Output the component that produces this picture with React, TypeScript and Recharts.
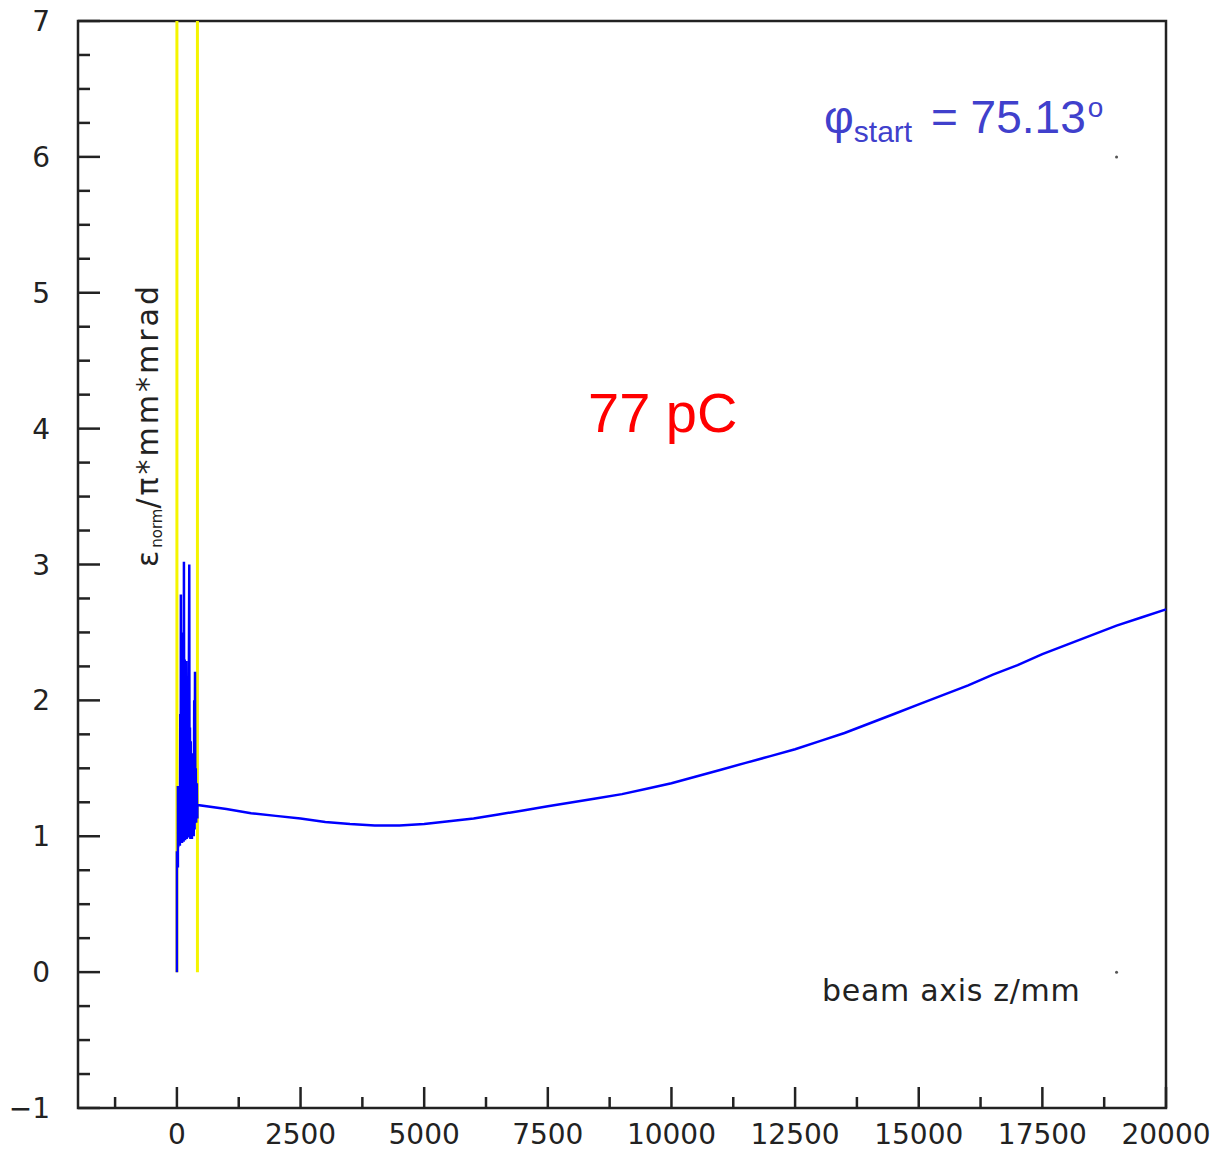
import { LineChart, Line, XAxis, YAxis, ReferenceLine, ReferenceArea, ReferenceDot } from "recharts";

// emittance near the cathode (z in mm), dense solver oscillations inside the gun
const zNear = [
  0, 0, 12, 12, 20, 20, 28, 36, 44, 52, 60, 68, 76, 80, 88, 96, 104, 112, 120, 128,
  136, 142, 150, 158, 166, 174, 182, 190, 198, 206, 214, 222, 230, 240, 250, 256, 264, 272, 280, 288,
  296, 304, 312, 320, 330, 340, 350, 358, 366, 374, 382, 390, 398, 404, 408, 414, 414,
];
const emitNear = [
  0, 0.88, 0.88, 0.78, 0.78, 1.37, 0.92, 1.36, 0.95, 1.35, 0.93, 1.9, 0.96, 2.78, 0.97, 2.4, 0.95, 2.2, 0.98, 2.5,
  0.96, 3.02, 0.99, 2.3, 0.97, 2.25, 1.0, 2.29, 0.98, 2.1, 1.0, 1.9, 0.99, 2.0, 3.0, 1.0, 1.8, 0.98, 1.7, 1.0,
  1.61, 0.98, 1.5, 1.0, 1.45, 1.0, 2.0, 1.05, 2.21, 1.1, 1.5, 1.1, 1.38, 1.38, 1.14, 1.14, 1.23,
];

// emittance along the drift after the gun
const zBeam = [
  1000, 1500, 2000, 2500, 3000, 3500, 4000, 4500, 5000, 5500, 6000, 6500, 7000, 7500, 8000, 8500, 9000, 9500,
  10000, 10500, 11000, 11500, 12000, 12500, 13000, 13500, 14000, 14500, 15000, 15500, 16000, 16500, 17000,
  17500, 18000, 18500, 19000, 19500, 20000,
];
const emitBeam = [
  1.2, 1.17, 1.15, 1.13, 1.105, 1.09, 1.08, 1.08, 1.09, 1.11, 1.13, 1.16, 1.19, 1.22, 1.25, 1.28, 1.31, 1.35,
  1.39, 1.44, 1.49, 1.54, 1.59, 1.64, 1.7, 1.76, 1.83, 1.9, 1.97, 2.04, 2.11, 2.19, 2.26,
  2.34, 2.41, 2.48, 2.55, 2.61, 2.67,
];

// gun boundaries
const markerZ = [0, 415];

const xTicks = [
  -1250, 0, 1250, 2500, 3750, 5000, 6250, 7500, 8750, 10000, 11250, 12500, 13750, 15000, 16250, 17500, 18750, 20000,
];
const yTicks = [
  -1, -0.75, -0.5, -0.25, 0, 0.25, 0.5, 0.75, 1, 1.25, 1.5, 1.75, 2, 2.25, 2.5, 2.75, 3, 3.25, 3.5, 3.75,
  4, 4.25, 4.5, 4.75, 5, 5.25, 5.5, 5.75, 6, 6.25, 6.5, 6.75, 7,
];

const data = [
  ...zNear.map((z, i) => ({ z, emit: emitNear[i] })),
  ...zBeam.map((z, i) => ({ z, emit: emitBeam[i] })),
];

const AXIS = "#222";
const TICK_FONT = "'DejaVu Sans', sans-serif";
const SANS = "'Liberation Sans', Arial, sans-serif";

function XTick(props: any) {
  const { x, y, payload } = props;
  const major = payload.value % 2500 === 0;
  return (
    <g>
      <line x1={x} x2={x} y1={y} y2={y - (major ? 21 : 11)} stroke={AXIS} strokeWidth={2.5} />
      {major && (
        <text x={x} y={y + 36} textAnchor="middle" fontSize={28} fontFamily={TICK_FONT} fill="#222">
          {payload.value}
        </text>
      )}
    </g>
  );
}

function YTick(props: any) {
  const { x, y, payload } = props;
  const major = Number.isInteger(payload.value);
  const v = payload.value;
  return (
    <g>
      <line x1={x} x2={x + (major ? 22 : 12)} y1={y} y2={y} stroke={AXIS} strokeWidth={2.5} />
      {major && (
        <text x={x - 28} y={y + 10} textAnchor="end" fontSize={28} fontFamily={TICK_FONT} fill="#222">
          {v < 0 ? `\u2212${-v}` : v}
        </text>
      )}
    </g>
  );
}

export default function App() {
  return (
    <div style={{ position: "absolute", left: 0, top: 0, background: "#fff" }}>
      <LineChart width={1223} height={1153} data={data} margin={{ top: 21, right: 57, bottom: 0, left: 0 }}>
        <XAxis
          type="number"
          dataKey="z"
          domain={[-2000, 20000]}
          ticks={xTicks}
          interval={0}
          height={45}
          axisLine={false}
          tickLine={false}
          tickSize={0}
          tickMargin={0}
          tick={XTick}
        />
        <YAxis
          type="number"
          domain={[-1, 7]}
          ticks={yTicks}
          interval={0}
          width={78}
          axisLine={false}
          tickLine={false}
          tickSize={0}
          tickMargin={0}
          tick={YTick}
        />
        <ReferenceArea x1={-2000} x2={20000} y1={-1} y2={7} fill="none" stroke={AXIS} strokeWidth={2.5} />
        {markerZ.map((z) => (
          <ReferenceLine
            key={z}
            segment={[{ x: z, y: 0 }, { x: z, y: 7 }]}
            stroke="#f5f500"
            strokeWidth={3}
          />
        ))}
        <ReferenceDot x={19000} y={6} r={1.5} fill="#555" stroke="none" />
        <ReferenceDot x={19000} y={0} r={1.5} fill="#555" stroke="none" />
        <Line
          type="linear"
          dataKey="emit"
          stroke="#0000ff"
          strokeWidth={2.5}
          dot={false}
          isAnimationActive={false}
        />
        <g>
          <text transform="translate(158,567) rotate(-90)" fontSize={30} fontFamily={TICK_FONT} fill="#222">
            <tspan letterSpacing={3}>ε</tspan>
            <tspan fontSize={15} dy={4} letterSpacing={0}>
              norm
            </tspan>
            <tspan dy={-4} letterSpacing={3}>
              /π*mm*mrad
            </tspan>
          </text>
          <text x={822} y={1001} fontSize={30} fontFamily={TICK_FONT} letterSpacing={0.7} fill="#222">
            beam axis z/mm
          </text>
          <text x={588} y={432} fontSize={56} fontFamily={SANS} fill="#ff0000">
            77 pC
          </text>
          <text x={824} y={133} fontSize={46} fontFamily={SANS} fill="#4040cc">
            φ<tspan fontSize={30} dy={9}>start</tspan>
            <tspan dy={-9} dx={6}>
              {" = 75.13"}
            </tspan>
            <tspan fontSize={28} dy={-16} dx={2}>
              o
            </tspan>
          </text>
        </g>
      </LineChart>
    </div>
  );
}
